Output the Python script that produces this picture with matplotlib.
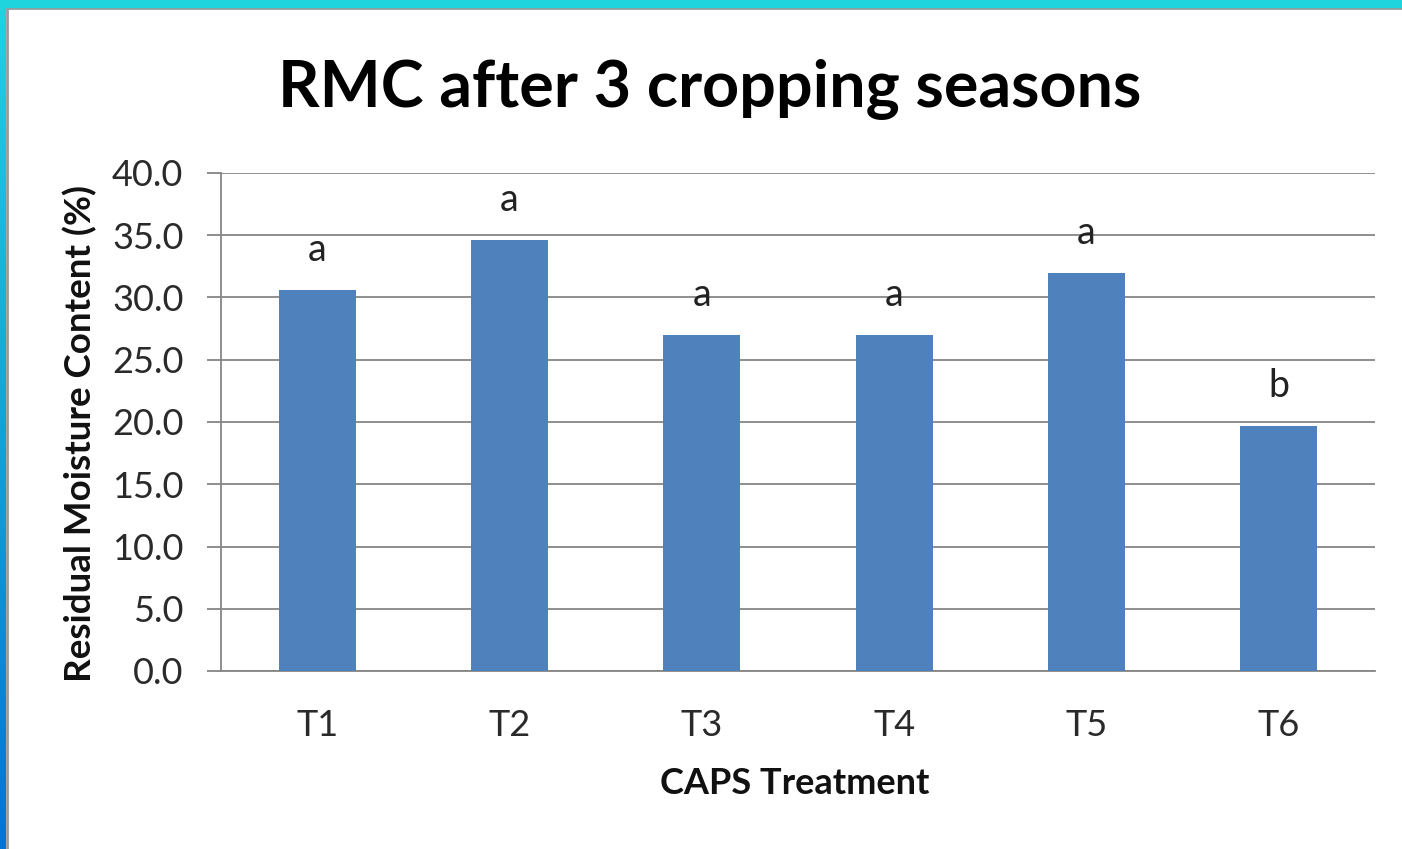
import numpy as np
import matplotlib
matplotlib.use("Agg")
import matplotlib.pyplot as plt
from matplotlib.patches import Rectangle

# data
treatments = ['T1', 'T2', 'T3', 'T4', 'T5', 'T6']
rmc = [30.6, 34.6, 27.0, 27.0, 32.0, 19.7]
groups = ['a', 'a', 'a', 'a', 'a', 'b']
yticks = [0, 5, 10, 15, 20, 25, 30, 35, 40]

plt.rcParams['font.family'] = ['Lato', 'DejaVu Sans']

fig = plt.figure(figsize=(14.02, 8.49), dpi=100)
fig.patch.set_facecolor('white')

# slide-style frame: cyan band on top, gradient band on the left
grad = np.linspace(0, 1, 256).reshape(-1, 1)
cmap = matplotlib.colors.LinearSegmentedColormap.from_list('edge', ['#1fd4dc', '#0274d9'])
band = fig.add_axes([0, 0, 6 / 1402, 1])
band.imshow(grad, aspect='auto', cmap=cmap, extent=[0, 1, 0, 1], origin='upper')
band.axis('off')
fig.patches.append(Rectangle((0, 1 - 7 / 849), 1, 7 / 849, transform=fig.transFigure,
                             color='#1fd4dc', zorder=5))
fig.lines.append(plt.Line2D([6 / 1402, 1], [1 - 8 / 849, 1 - 8 / 849], transform=fig.transFigure,
                            color='#9a9a9a', lw=2))
fig.lines.append(plt.Line2D([7 / 1402, 7 / 1402], [0, 1 - 8 / 849], transform=fig.transFigure,
                            color='#9a9a9a', lw=2))

ax = fig.add_axes([221 / 1402, 1 - 671 / 849, (1375 - 221) / 1402, (671 - 173) / 849])
x = np.arange(len(treatments))
ax.bar(x, rmc, width=0.4, color='#4f81bd', zorder=3)

for xi, v, g in zip(x, rmc, groups):
    ax.text(xi, v + 3.2, g, ha='center', va='center', fontsize=27, color='#222222')

ax.set_xlim(-0.5, len(treatments) - 0.5)
ax.set_ylim(0, 40)
ax.set_yticks(yticks)
ax.set_yticklabels(['%.1f' % t for t in yticks], fontsize=26, color='#2a2a2a')
ax.set_xticks(x)
ax.set_xticklabels(treatments, fontsize=26, color='#2a2a2a')
ax.tick_params(axis='y', length=10, width=1.3, color='#868686', pad=17)
ax.tick_params(axis='x', length=0, pad=27)
ax.yaxis.grid(True, color='#868686', lw=1.3, zorder=0)

for side in ['top', 'right']:
    ax.spines[side].set_visible(False)
ax.spines['left'].set_color('#868686')
ax.spines['left'].set_linewidth(1.3)
ax.spines['bottom'].set_color('#868686')
ax.spines['bottom'].set_linewidth(1.3)

fig.text(795 / 1402, 1 - 784 / 849, 'CAPS Treatment', ha='center', va='center',
         fontsize=26, fontweight='bold', color='#111111')
fig.text(80 / 1402, 1 - 434 / 849, 'Residual Moisture Content (%)', ha='center', va='center',
         rotation=90, fontsize=26.5, fontweight='bold', color='#111111')

fig.text(710 / 1402, 1 - 90 / 849, 'RMC after 3 cropping seasons', ha='center', va='center',
         fontsize=46.5, fontweight='bold', color='black')

fig.savefig('out.png', dpi=100)
